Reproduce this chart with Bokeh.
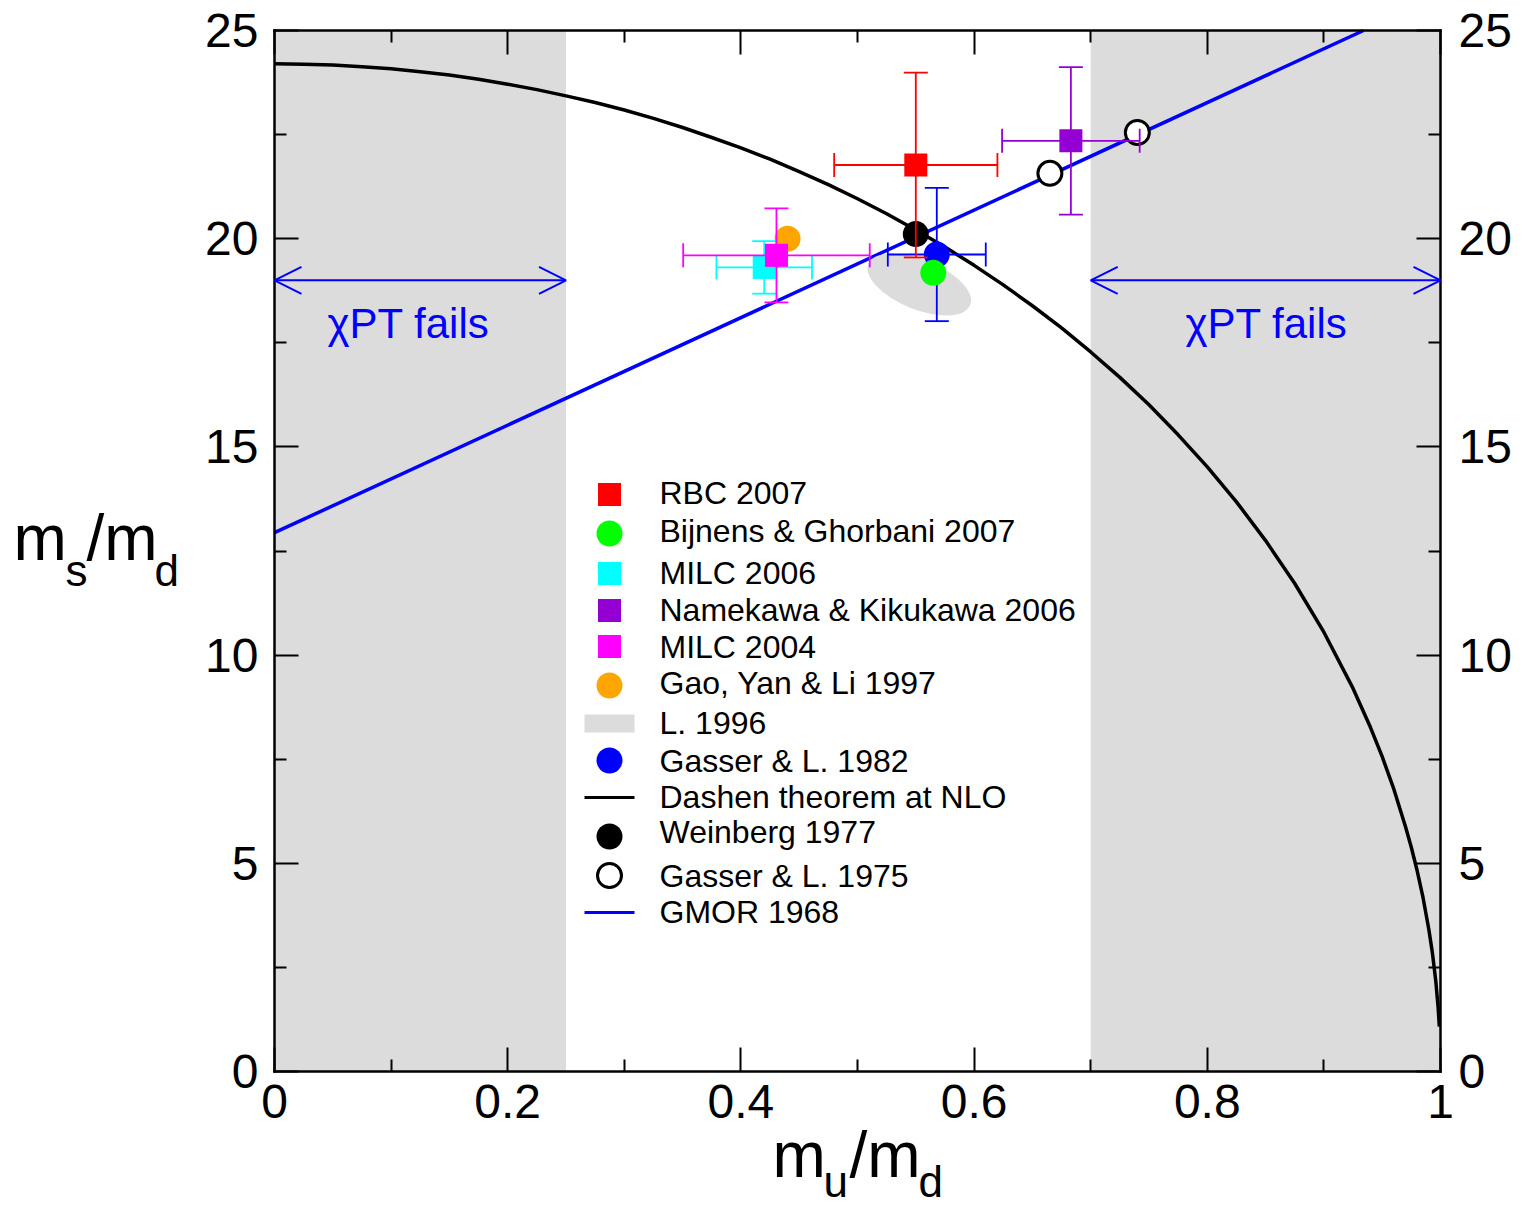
import math
from bokeh.plotting import figure
from bokeh.models import (Range1d, FixedTicker, LinearAxis, Label, Arrow, OpenHead,
                          CustomJSTickFormatter)
from bokeh.embed import file_html
from bokeh.resources import INLINE
from bokeh.core.properties import value

# ---------------- data ----------------
x_ticks = [0, 0.2, 0.4, 0.6, 0.8, 1.0]
x_tick_labels = ["0", "0.2", "0.4", "0.6", "0.8", "1"]
x_minor = [0.1, 0.3, 0.5, 0.7, 0.9]
y_ticks = [0, 5, 10, 15, 20, 25]
y_tick_labels = ["0", "5", "10", "15", "20", "25"]
y_minor = [2.5, 7.5, 12.5, 17.5, 22.5]

fail_left = [0.0, 0.7]
fail_right = [0.25, 1.0]
fail_arrow_y = 19.0
fail_text = "\u03c7PT fails"

dashen_x = [0.0, 0.025, 0.05, 0.075, 0.1, 0.125, 0.15, 0.175, 0.2, 0.225, 0.25, 0.275,
            0.3, 0.325, 0.35, 0.375, 0.4, 0.425, 0.45, 0.475, 0.5, 0.525, 0.55, 0.575,
            0.6, 0.625, 0.65, 0.675, 0.7, 0.725, 0.75, 0.775, 0.8, 0.825, 0.85, 0.875,
            0.9, 0.925, 0.94, 0.95, 0.96, 0.97, 0.975, 0.98, 0.985, 0.99, 0.993, 0.996,
            0.998, 0.999]
dashen_y = [24.20, 24.19, 24.17, 24.13, 24.08, 24.01, 23.93, 23.83, 23.71, 23.58, 23.43,
            23.27, 23.09, 22.89, 22.67, 22.43, 22.18, 21.91, 21.61, 21.30, 20.96, 20.60,
            20.21, 19.80, 19.36, 18.89, 18.39, 17.86, 17.28, 16.67, 16.01, 15.29, 14.52,
            13.68, 12.75, 11.72, 10.55, 9.20, 8.26, 7.56, 6.78, 5.88, 5.38, 4.82, 4.18,
            3.41, 2.86, 2.16, 1.53, 1.08]

gmor_x = [0.0, 0.934]
gmor_y = [12.94, 25.0]

rbc_x, rbc_y, rbc_xerr, rbc_yerr = [0.550], [21.77], [0.070], [2.22]
nk_x, nk_y, nk_xerr, nk_yerr = [0.683], [22.35], [0.059], [1.77]
milc06_x, milc06_y, milc06_xerr, milc06_yerr = [0.420], [19.31], [0.041], [0.63]
milc04_x, milc04_y, milc04_xerr, milc04_yerr = [0.4305], [19.60], [0.080], [1.13]
gl82_x, gl82_y, gl82_xerr, gl82_yerr = [0.568], [19.62], [0.042], [1.60]
bg_x, bg_y = [0.565], [19.18]
gao_x, gao_y = [0.440], [20.00]
wein_x, wein_y = [0.550], [20.11]
gl75_x, gl75_y = [0.665, 0.740], [21.57, 22.55]
l96_x, l96_y = [0.553], [18.90]

legend_labels = ["RBC 2007", "Bijnens & Ghorbani 2007", "MILC 2006",
                 "Namekawa & Kikukawa 2006", "MILC 2004", "Gao, Yan & Li 1997",
                 "L. 1996", "Gasser & L. 1982", "Dashen theorem at NLO",
                 "Weinberg 1977", "Gasser & L. 1975", "GMOR 1968"]

# axis titles, split into (text, is_subscript) pieces
y_title = [("m", False), ("s", True), ("/m", False), ("d", True)]
x_title = [("m", False), ("u", True), ("/m", False), ("d", True)]

# ---------------- styles / layout ----------------
RED, GREEN, CYAN, PURPLE, MAGENTA, ORANGE = "#ff0000", "#00ff00", "#00ffff", "#9400d3", "#ff00ff", "#ffa500"
BLUE, BLACK, GREY = "#0000ff", "#000000", "#dcdcdc"
FONT = "Liberation Sans"
BASE_SHIFT = 0.36   # em offset that puts the visual baseline where wanted

W, H = 1523, 1207
FL, FR, FT, FB = 274, 1440, 30, 1071      # where the data box sits on the canvas
XMIN, XMAX, YMIN, YMAX = 0.0, 1.0, 0.0, 25.0


def dx(px):
    return XMIN + (px - FL) * (XMAX - XMIN) / (FR - FL)


def dy(py):
    return YMIN + (FB - py) * (YMAX - YMIN) / (FB - FT)


# the frame covers the whole canvas; the axes are pinned to the data box
p = figure(width=W, height=H, title=None,
           x_range=Range1d(dx(0), dx(W)), y_range=Range1d(dy(H), dy(0)),
           output_backend="svg", toolbar_location=None,
           min_border=0, min_border_left=0, min_border_right=0,
           min_border_top=0, min_border_bottom=0)
p.grid.visible = False
p.background_fill_color = "white"
p.border_fill_color = "white"
p.outline_line_color = None

top_axis = LinearAxis(formatter=CustomJSTickFormatter(code="return ''"))
right_axis = LinearAxis()
p.add_layout(top_axis, "above")
p.add_layout(right_axis, "right")
bottom_axis, left_axis = p.below[0], p.left[0]

bottom_axis.fixed_location = YMIN
top_axis.fixed_location = YMAX
left_axis.fixed_location = XMIN
right_axis.fixed_location = XMAX

for ax in [bottom_axis, top_axis]:
    ax.ticker = FixedTicker(ticks=x_ticks, minor_ticks=x_minor)
    ax.bounds = (XMIN, XMAX)
for ax in [left_axis, right_axis]:
    ax.ticker = FixedTicker(ticks=y_ticks, minor_ticks=y_minor)
    ax.bounds = (YMIN, YMAX)
    ax.major_label_overrides = dict(zip(y_ticks, y_tick_labels))
bottom_axis.major_label_overrides = dict(zip(x_ticks, x_tick_labels))

for ax in [bottom_axis, left_axis, top_axis, right_axis]:
    ax.axis_line_width = 2.5
    ax.axis_line_color = BLACK
    ax.axis_line_cap = "square"
    ax.major_tick_in = 24
    ax.major_tick_out = 0
    ax.minor_tick_in = 12
    ax.minor_tick_out = 0
    ax.major_tick_line_width = 2
    ax.minor_tick_line_width = 2
    ax.major_tick_line_color = BLACK
    ax.minor_tick_line_color = BLACK
    ax.major_label_text_font = FONT
    ax.major_label_text_font_size = "48px"
    ax.major_label_text_color = BLACK
top_axis.major_label_text_font_size = "0px"
top_axis.major_label_standoff = 0
bottom_axis.major_label_standoff = 13
left_axis.major_label_standoff = 16
right_axis.major_label_standoff = 18

# shaded "chiPT fails" regions
p.quad(left=fail_left, right=fail_right, bottom=YMIN, top=YMAX,
       fill_color=GREY, line_color=None)

# curves
p.line(gmor_x, gmor_y, line_color=BLUE, line_width=3.5)
p.line(dashen_x, dashen_y, line_color=BLACK, line_width=3.5, line_join="round")

# L. 1996 ellipse
p.ellipse(x=l96_x, y=l96_y, width=110, height=50, width_units="screen",
          height_units="screen", angle=-math.radians(22), fill_color=GREY, line_color=None)


def errbars(x, y, xe, ye, color):
    lw = 1.8
    p.segment(x0=[a - e for a, e in zip(x, xe)], y0=y, x1=[a + e for a, e in zip(x, xe)], y1=y,
              line_color=color, line_width=lw)
    p.segment(x0=x, y0=[b - e for b, e in zip(y, ye)], x1=x, y1=[b + e for b, e in zip(y, ye)],
              line_color=color, line_width=lw)
    p.scatter(x=[a - e for a, e in zip(x, xe)] + [a + e for a, e in zip(x, xe)], y=y + y,
              marker="dash", angle=math.pi / 2, size=24, line_color=color, line_width=lw)
    p.scatter(x=x + x, y=[b - e for b, e in zip(y, ye)] + [b + e for b, e in zip(y, ye)],
              marker="dash", size=24, line_color=color, line_width=lw)


SQ, CI = 23, 26

# Gasser & L. 1975 open circles
p.scatter(gl75_x, gl75_y, marker="circle", size=24, fill_color="white",
          line_color=BLACK, line_width=3)
# Weinberg
p.scatter(wein_x, wein_y, marker="circle", size=CI, fill_color=BLACK, line_color=None)
# Gasser & L. 1982
errbars(gl82_x, gl82_y, gl82_xerr, gl82_yerr, BLUE)
p.scatter(gl82_x, gl82_y, marker="circle", size=CI, fill_color=BLUE, line_color=None)
# Bijnens & Ghorbani
p.scatter(bg_x, bg_y, marker="circle", size=CI, fill_color=GREEN, line_color=None)
# Gao, Yan & Li
p.scatter(gao_x, gao_y, marker="circle", size=CI, fill_color=ORANGE, line_color=None)
# MILC 2006
errbars(milc06_x, milc06_y, milc06_xerr, milc06_yerr, CYAN)
p.scatter(milc06_x, milc06_y, marker="square", size=SQ, fill_color=CYAN, line_color=None)
# MILC 2004
errbars(milc04_x, milc04_y, milc04_xerr, milc04_yerr, MAGENTA)
p.scatter(milc04_x, milc04_y, marker="square", size=SQ, fill_color=MAGENTA, line_color=None)
# RBC 2007
errbars(rbc_x, rbc_y, rbc_xerr, rbc_yerr, RED)
p.scatter(rbc_x, rbc_y, marker="square", size=SQ, fill_color=RED, line_color=None)
# Namekawa & Kikukawa
errbars(nk_x, nk_y, nk_xerr, nk_yerr, PURPLE)
p.scatter(nk_x, nk_y, marker="square", size=SQ, fill_color=PURPLE, line_color=None)

# arrows + text for chiPT fails
FAIL_TEXT_X = [dx(408), dx(1266)]
FAIL_FS = 42
for l, r, tx in zip(fail_left, fail_right, FAIL_TEXT_X):
    p.add_layout(Arrow(x_start=l, y_start=fail_arrow_y, x_end=r, y_end=fail_arrow_y,
                       line_color=BLUE, line_width=2,
                       start=OpenHead(size=27, line_color=BLUE, line_width=2),
                       end=OpenHead(size=27, line_color=BLUE, line_width=2)))
    p.add_layout(Label(x=tx, y=dy(338 - BASE_SHIFT * FAIL_FS), text=fail_text,
                       text_align="center", text_baseline="alphabetic", text_font=FONT,
                       text_font_size=f"{FAIL_FS}px", text_color=BLUE))

# ---------------- custom legend ----------------
LEG_GX = 609
LEG_LINE = (584, 634)
LEG_TX = 659
LEG_FS = 32
LEG_ROW = [494, 533, 573, 610, 646, 685, 723, 760, 797, 836, 875, 912]
LEG_BASE = [504, 542, 584, 621, 658, 694, 734, 772, 808, 843, 887, 923]
leg_style = [("square", RED), ("circle", GREEN), ("square", CYAN), ("square", PURPLE),
             ("square", MAGENTA), ("circle", ORANGE), ("rect", GREY), ("circle", BLUE),
             ("line", BLACK), ("circle", BLACK), ("open", BLACK), ("line", BLUE)]

for (kind, color), rowpx in zip(leg_style, LEG_ROW):
    gx, gy = dx(LEG_GX), dy(rowpx)
    if kind == "square":
        p.scatter([gx], [gy], marker="square", size=SQ, fill_color=color, line_color=None)
    elif kind == "circle":
        p.scatter([gx], [gy], marker="circle", size=CI, fill_color=color, line_color=None)
    elif kind == "open":
        p.scatter([gx], [gy], marker="circle", size=24, fill_color="white",
                  line_color=color, line_width=3)
    elif kind == "rect":
        p.rect([gx], [gy], width=50, height=18, width_units="screen", height_units="screen",
               fill_color=color, line_color=None)
    elif kind == "line":
        p.segment(x0=[dx(LEG_LINE[0])], y0=[gy], x1=[dx(LEG_LINE[1])], y1=[gy],
                  line_color=color, line_width=3)

p.text(x=[dx(LEG_TX)] * len(legend_labels),
       y=[dy(b - BASE_SHIFT * LEG_FS) for b in LEG_BASE], text=legend_labels,
       text_font=value(FONT), text_font_size=value(f"{LEG_FS}px"), text_color=BLACK,
       text_align="left", text_baseline="alphabetic")

# ---------------- axis titles with subscripts ----------------
MAIN_FS, SUB_FS = 64, 44


def draw_title(pieces, xs, base_main, base_sub):
    for (txt, sub), x in zip(pieces, xs):
        fs = SUB_FS if sub else MAIN_FS
        base = base_sub if sub else base_main
        p.text(x=[dx(x)], y=[dy(base - BASE_SHIFT * fs)], text=[txt], text_font=value(FONT),
               text_font_size=value(f"{fs}px"), text_color=BLACK,
               text_align="left", text_baseline="alphabetic")


draw_title(y_title, [13, 65, 86, 154], 561, 586)
draw_title(x_title, [772, 823, 849, 918], 1178, 1197)

open("out.html", "w").write(file_html(p, INLINE))
